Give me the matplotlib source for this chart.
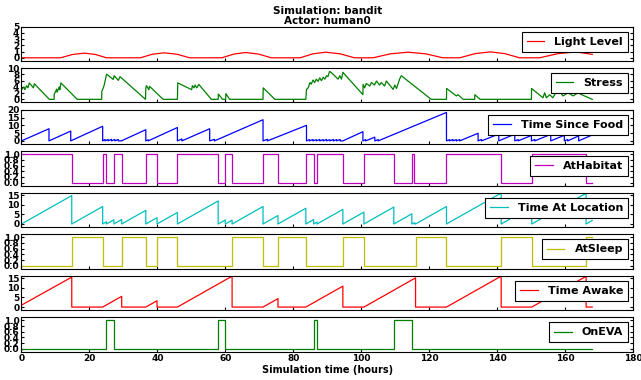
import matplotlib
matplotlib.use('Agg')
import matplotlib.pyplot as plt
from matplotlib.ticker import FormatStrFormatter

# hours since start of the run
light_t = [0, 11.5, 15.0, 18.5, 21.8, 25.0, 35.0, 38.5, 42.0, 45.8, 49.5,
           59.0, 62.5, 66.0, 69.8, 73.5, 82.0, 85.8, 89.5, 93.8, 98.0,
           103.5, 108.6, 113.8, 119.0, 124.0, 129.0, 133.5, 138.0, 142.3, 146.6,
           152.5, 157.9, 163.3, 168.0]
light_v = [0, 0, 0.53, 0.75, 0.53, 0, 0, 0.57, 0.8, 0.57, 0,
           0, 0.6, 0.85, 0.6, 0, 0, 0.64, 0.9, 0.64, 0,
           0, 0.64, 0.9, 0.64, 0, 0, 0.67, 0.95, 0.67, 0,
           0, 0.67, 0.95, 0.55]

stress_t = [0.0, 0.7, 1.0, 1.5, 1.9, 2.3, 3.5, 3.8, 8.2,
            9.6, 9.65, 9.95, 10.35, 10.5, 10.8, 11.1, 11.3, 11.6, 16.4,
            23.6, 23.65, 24.1, 24.4, 25.05, 27.0, 27.3, 28.5, 29.0, 36.5,
            36.6, 36.8, 37.5, 37.7, 41.7,
            45.9, 46.0, 50.1, 50.3, 50.8, 51.1, 51.6, 52.2, 55.9,
            57.9, 57.95, 59.2, 60.1, 60.15, 61.3,
            71.1, 71.15, 74.6,
            83.7, 83.9, 84.4, 84.9, 85.3, 85.8, 86.3, 86.8, 87.3, 87.8, 88.3,
            88.8, 89.3, 89.8, 90.2, 90.7, 91.2, 93.2, 93.7, 94.2, 94.6, 100.5,
            100.55, 101.0, 101.5, 102.5, 103.0, 103.9, 104.5, 105.4, 105.9,
            106.9, 107.4, 109.4, 109.9, 110.4, 111.3, 111.8, 120.6,
            125.1, 125.15, 128.0, 128.5, 130.0,
            133.4, 133.45, 135.0,
            150.1, 150.15, 153.5, 154.0, 154.5, 155.5, 156.4, 157.4, 157.9,
            159.4, 160.9, 162.4, 163.8, 165.3, 168.0]
stress_v = [3.1, 4.0, 3.1, 4.4, 3.7, 5.3, 3.7, 5.0, 0,
            0, 1.7, 2.3, 3.3, 2.3, 3.1, 4.0, 3.1, 5.3, 0,
            0, 2.6, 3.7, 4.8, 8.1, 6.4, 7.6, 6.1, 7.3, 0,
            3.7, 4.4, 3.1, 4.2, 0,
            0, 5.3, 3.1, 4.4, 3.7, 4.6, 3.7, 4.8, 0,
            0, 1.7, 0, 0, 1.8, 0,
            0, 3.7, 0,
            0, 3.2, 3.7, 5.4, 4.9, 6.2, 5.4, 6.5, 5.8, 6.9, 6.0,
            7.1, 6.5, 7.6, 7.3, 9.0, 8.6, 6.5, 7.6, 6.5, 8.7, 1.5,
            4.8, 3.7, 5.1, 4.3, 5.4, 4.6, 5.9, 4.6, 5.4,
            4.3, 5.9, 3.2, 4.6, 3.5, 6.5, 7.6, 0,
            0, 3.5, 1.1, 1.5, 0,
            0, 1.5, 0,
            0, 3.5, 0.5, 2.1, 0.5, 1.5, 0.5, 2.4, 3.2,
            1.1, 2.1, 1.1, 2.1, 1.3, 0]

food_t = [0, 8.1, 8.1, 14.5, 14.5, 23.9, 23.9,
          24.6, 24.6, 25.5, 25.5, 26.5, 26.5, 27.5, 27.5, 28.5, 28.5, 29.4,
          36.6, 36.6, 37.3, 37.3, 45.9, 45.9, 47.2, 47.2, 55.4, 55.4,
          56.8, 56.8, 71.1, 71.1, 72.4, 72.4, 83.9, 83.9,
          84.8, 84.8, 85.8, 85.8, 86.8, 86.8, 87.8, 87.8, 88.8, 88.8,
          89.8, 89.8, 90.8, 90.8, 91.8, 91.8, 92.8, 92.8, 93.8, 93.8,
          94.6, 100.5, 100.5, 101.3, 101.3, 104.0, 104.0, 105.0, 105.0, 125.1, 125.1,
          126.0, 126.0, 127.0, 127.0, 128.0, 128.0, 129.0, 129.0,
          134.4, 134.4, 135.4, 135.4, 140.5, 140.5, 145.2, 145.2, 146.2, 146.2,
          150.1, 150.1, 151.1, 151.1, 155.8, 155.8, 159.8, 159.8, 160.8, 160.8,
          164.0, 164.0, 168.0]
food_v = [0, 7.8, 0, 6.3, 0, 9.4, 0,
          0.9, 0, 0.9, 0, 1.0, 0, 0.9, 0, 0.9, 0, 0,
          7.2, 0, 0.7, 0, 8.6, 0, 1.2, 0, 7.8, 0,
          1.0, 0, 13.6, 0, 1.0, 0, 10.0, 0,
          0.8, 0, 0.9, 0, 0.8, 0, 0.9, 0, 0.8, 0,
          0.9, 0, 0.8, 0, 0.9, 0, 0.8, 0, 0.9, 0,
          0, 5.9, 0, 0.8, 0, 2.4, 0, 0.8, 0, 18.3, 0,
          0.8, 0, 0.9, 0, 0.8, 0, 0.8, 0,
          4.9, 0, 0.9, 0, 4.4, 0, 4.3, 0, 0.8, 0,
          3.5, 0, 0.9, 0, 4.2, 0, 3.6, 0, 0.9, 0,
          3.2, 0, 3.8]

# state switches (value holds until next time)
habitat_t = [0, 14.8, 23.9, 25.0, 27.2, 29.5, 36.6, 39.9, 45.9, 57.9, 60.0,
             62.0, 71.1, 75.5, 83.7, 86.0, 87.0, 94.6, 100.8, 109.6, 114.9,
             115.6, 125.1, 141.2, 150.2, 166.2, 168.0]
habitat_v = [1, 0, 1, 0, 1, 0, 1, 0, 1, 0, 1,
             0, 1, 0, 1, 0, 1, 0, 1, 0, 1,
             0, 1, 0, 1, 0, 0]

location_t = [0, 14.8, 14.8, 23.9, 23.9, 25.0, 25.0, 27.2, 27.2, 29.5, 29.5,
              36.6, 36.6, 39.9, 39.9, 45.9, 45.9, 57.9, 57.9, 60.0, 60.0,
              62.0, 62.0, 71.1, 71.1, 75.5, 75.5, 83.7, 83.7, 86.0, 86.0,
              87.0, 87.0, 94.6, 94.6, 100.8, 100.8, 109.6, 109.6, 114.9, 114.9,
              115.6, 115.6, 116.0, 116.0, 125.1, 125.1, 141.2, 141.2, 150.2, 150.2,
              166.2, 166.2, 168.0]
location_v = [0, 14.8, 0, 9.1, 0, 1.1, 0, 2.2, 0, 2.3, 0,
              7.1, 0, 3.3, 0, 6.0, 0, 12.0, 0, 2.1, 0,
              2.0, 0, 9.1, 0, 4.4, 0, 8.2, 0, 2.3, 0,
              1.0, 0, 7.6, 0, 6.2, 0, 8.8, 0, 5.3, 0,
              0.7, 0, 0.4, 0, 9.1, 0, 16.1, 0, 9.0, 0,
              16.0, 0, 1.8]

sleep_t = [0, 14.8, 23.9, 29.5, 36.6, 39.9, 45.9, 62.0, 71.1, 75.5, 83.7,
           94.6, 100.8, 116.0, 125.1, 141.2, 150.2, 166.2, 168.0]
sleep_v = [0, 1, 0, 1, 0, 1, 0, 1, 0, 1, 0,
           1, 0, 1, 0, 1, 0, 1, 1]

awake_t = [0, 14.8, 14.8, 23.9, 29.5, 29.5, 36.6, 39.9, 39.9, 45.9, 62.0, 62.0,
           71.1, 75.5, 75.5, 83.7, 94.6, 94.6, 100.8, 116.0, 116.0, 125.1,
           141.2, 141.2, 150.2, 166.2, 166.2, 168.0]
awake_v = [1.0, 15.6, 0, 0, 5.6, 0, 0, 3.3, 0, 0, 16.1, 0,
           0, 4.4, 0, 0, 10.9, 0, 0, 15.2, 0, 0,
           16.1, 0, 0, 16.0, 0, 0]

eva_t = [0, 25.0, 27.2, 57.9, 60.0, 86.0, 87.0, 109.6, 114.9, 168.0]
eva_v = [0, 1, 0, 1, 0, 1, 0, 1, 0, 0]


def plot_actor():
    plt.rcParams['font.family'] = 'DejaVu Sans'
    plt.rcParams['font.weight'] = 'bold'
    plt.rcParams['axes.linewidth'] = 0.8
    plt.rcParams['xtick.direction'] = 'in'
    plt.rcParams['ytick.direction'] = 'in'
    plt.rcParams['ytick.right'] = True
    plt.rcParams['xtick.major.size'] = 2.5
    plt.rcParams['ytick.major.size'] = 2.0
    plt.rcParams['xtick.major.pad'] = 2
    plt.rcParams['ytick.major.pad'] = 1.5

    panels = [
        (light_t, light_v, 'r', 'Light Level', (-0.5, 5), [0, 1, 2, 3, 4, 5], False),
        (stress_t, stress_v, 'g', 'Stress', (-1, 10), [0, 2, 4, 6, 8, 10], False),
        (food_t, food_v, 'b', 'Time Since Food', (-2, 20), [0, 5, 10, 15, 20], False),
        (habitat_t, habitat_v, 'm', 'AtHabitat', (-0.1, 1.1), [0, 0.2, 0.4, 0.6, 0.8, 1.0], True),
        (location_t, location_v, 'c', 'Time At Location', (-1.6, 16.2), [0, 5, 10, 15], False),
        (sleep_t, sleep_v, 'y', 'AtSleep', (-0.1, 1.1), [0, 0.2, 0.4, 0.6, 0.8, 1.0], True),
        (awake_t, awake_v, 'r', 'Time Awake', (-1.6, 16.2), [0, 5, 10, 15], False),
        (eva_t, eva_v, 'g', 'OnEVA', (-0.1, 1.1), [0, 0.2, 0.4, 0.6, 0.8, 1.0], True),
    ]

    fig, axes = plt.subplots(8, 1, sharex=True, figsize=(6.41, 3.8), dpi=100)
    fig.subplots_adjust(left=0.0335, right=0.9875, top=0.9297, bottom=0.0745,
                        hspace=0.215)

    for ax, (t, v, c, label, ylim, yticks, is_state) in zip(axes, panels):
        if is_state:
            ax.plot(t, v, color=c, lw=0.9, label=label, drawstyle='steps-post')
            ax.yaxis.set_major_formatter(FormatStrFormatter('%.1f'))
        else:
            ax.plot(t, v, color=c, lw=0.9, label=label)
        ax.set_ylim(*ylim)
        ax.set_yticks(yticks)
        ax.tick_params(axis='y', labelsize=6.5)
        ax.tick_params(axis='x', labelsize=6.5)
        leg = ax.legend(loc='upper right', prop={'size': 8, 'weight': 'bold'},
                        fancybox=False, framealpha=1.0, borderpad=0.45,
                        handlelength=1.6, handletextpad=0.9, borderaxespad=0.45)
        leg.get_frame().set_edgecolor('black')
        leg.get_frame().set_linewidth(0.8)

    axes[-1].set_xlim(0, 180)
    axes[-1].set_xticks(range(0, 181, 20))
    axes[-1].set_xlabel('Simulation time (hours)', fontsize=7, fontweight='bold',
                        labelpad=1)
    axes[0].set_title('Simulation: bandit\nActor: human0', fontsize=7.5,
                      fontweight='bold', pad=2, linespacing=1.0)

    plt.savefig('out.png', dpi=100)


if __name__ == '__main__':
    plot_actor()
